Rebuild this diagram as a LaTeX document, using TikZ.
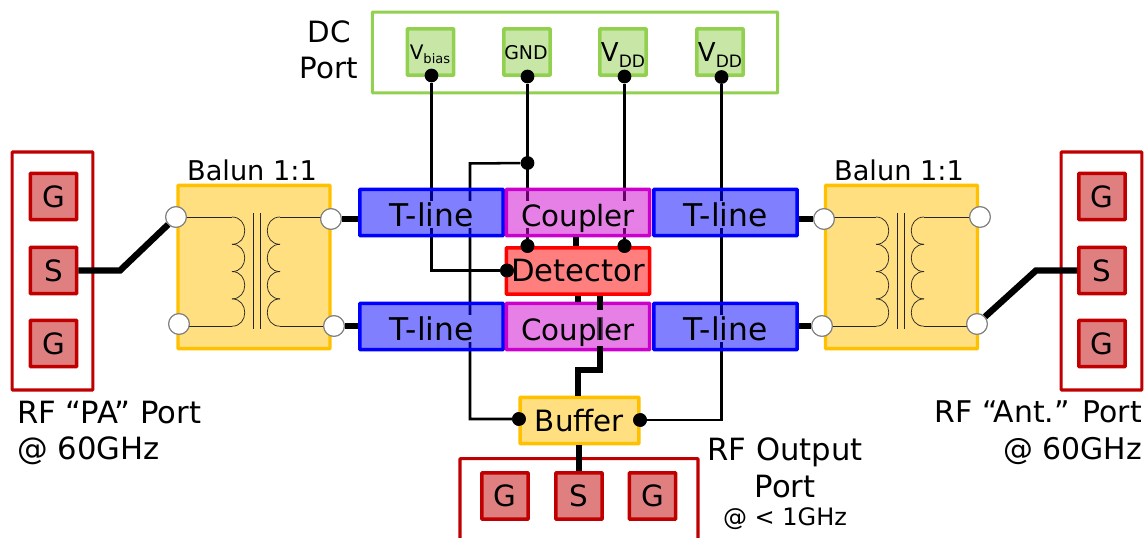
\documentclass[tikz,border=0pt]{standalone}
\usepackage{fontspec}
\setmainfont{DejaVu Sans}
\definecolor{portred}{HTML}{C00000}
\definecolor{padgreen}{HTML}{92D050}
\definecolor{balunyellow}{HTML}{FFC000}
\definecolor{couplerpurple}{HTML}{CC00CC}
\newcommand{\bigfont}{\fontsize{22}{27.4}\selectfont}
\newcommand{\labelfont}{\fontsize{23}{27.4}\selectfont}
\tikzset{
  boxbase/.style={draw=#1,fill=#1,fill opacity=0.5,text opacity=1,line width=2.6pt,rounded corners=0.5pt,inner sep=0pt,font=\bigfont},
  portbox/.style={draw=#1,line width=2.3pt,rounded corners=0.5pt,inner sep=0pt,minimum width=60.5pt,minimum height=60.5pt},
  padbox/.style={boxbase=#1,minimum width=34.8pt,minimum height=34.8pt},
  rowbox/.style={boxbase=#1,minimum width=107.4pt,minimum height=34.8pt},
  balunbox/.style={boxbase=balunyellow,minimum width=114pt,minimum height=122.5pt},
  rowtext/.style={fill=#1!50,anchor=base,inner sep=0pt,minimum width=100pt,text height=19pt,text depth=1pt,font=\bigfont},
  plaintext/.style={inner sep=0pt,font=\bigfont},
  terminal/.style={circle,draw=black!50,fill=white,line width=0.8pt,inner sep=0pt,minimum size=15.5pt},
  dot/.style={circle,fill=black,inner sep=0pt,minimum size=10.3pt},
  thinwire/.style={line width=1.9pt},
  thickwire/.style={line width=4.8pt},
  coilwire/.style={line width=0.55pt,black!85}
}
\begin{document}
\begin{tikzpicture}[x=0.75pt,y=-0.75pt]
  \useasboundingbox (0,0) rectangle (1146,538);
  \clip (0,0) rectangle (1146,538);
  \node[portbox=padgreen,minimum width=304pt] (dcPort) at (575,52.5) {};
  \node[portbox=portred,minimum height=178.5pt] (paPort) at (52.5,271) {};
  \node[portbox=portred,minimum height=178.5pt] (antPort) at (1101.5,271) {};
  \node[portbox=portred,minimum width=178.5pt,minimum height=65pt] (outPort) at (579,502) {};
  \foreach \name/\x/\y/\txt in {paG1/53.5/196.5/G,paS/53.5/270.5/S,paG2/53.5/343.5/G,antG1/1102/196.5/G,antS/1102/270.5/S,antG2/1102/343.5/G,outG1/505/496/G,outS/579/496/S,outG2/652.5/496/G}{
    \node[padbox=portred] (\name) at (\x,\y) {\txt};
  }
  \foreach \name/\x in {padBias/430.5,padGnd/527,padVddA/623,padVddB/720}{
    \node[padbox=padgreen] (\name) at (\x,52) {};
  }
  \node[anchor=base,inner sep=0pt] (txtBias) at (430,60) {\fontsize{15}{15}\selectfont V\raisebox{-2.6pt}{\fontsize{9.8}{10}\selectfont bias}};
  \node[anchor=base,inner sep=0pt,font=\fontsize{14.2}{15}\selectfont] (txtGnd) at (526,59.5) {GND};
  \foreach \name/\x in {txtVddA/623,txtVddB/720}{
    \node[anchor=base,inner sep=0pt] (\name) at (\x,62) {\fontsize{19.5}{20}\selectfont V\raisebox{-4.5pt}{\fontsize{12.8}{13}\selectfont DD}};
  }
  \node[dot] (dotBias) at (431.5,75.5) {};
  \node[dot] (dotGnd) at (527.5,76.5) {};
  \node[dot] (dotVddA) at (624.5,76.5) {};
  \node[dot] (dotVddB) at (721.5,77) {};
  \node[dot] (dotJoin) at (527.5,163) {};
  \node[dot] (dotDetL) at (527.5,246) {};
  \node[dot] (dotDetR) at (624.5,246) {};
  \node[dot] (dotDetW) at (507,270.5) {};
  \node[dot] (dotBufL) at (519,419) {};
  \node[dot] (dotBufR) at (640,420) {};
  \coordinate (joinBend) at (470,163.5);
  \coordinate (stepTop) at (600,370);
  \coordinate (stepLow) at (578,370);
  \coordinate (paBend) at (120,270.5);
  \coordinate (antBend) at (1036,270.5);
  \draw[thinwire] (dotBias) |- (dotDetW);
  \draw[thinwire] (dotGnd) -- (dotDetL);
  \draw[thinwire] (dotVddA) -- (dotDetR);
  \draw[thinwire] (dotVddB) |- (dotBufR);
  \draw[thinwire] (dotJoin) -- (joinBend) |- (dotBufL);
  \node[balunbox] (balunL) at (254,267) {};
  \node[balunbox] (balunR) at (901.5,267) {};
  \node[plaintext,font=\fontsize{20.4}{24}\selectfont] (labelL) at (252,170) {Balun 1:1};
  \node[plaintext,font=\fontsize{20.4}{24}\selectfont] (labelR) at (899,170) {Balun 1:1};
  \node[rowbox=blue] (tlineUL) at (431.5,212.5) {};
  \node[rowbox=couplerpurple] (couplerU) at (578,212.5) {};
  \node[rowbox=blue] (tlineUR) at (725.5,212.5) {};
  \node[rowbox=blue] (tlineLL) at (431.5,326.5) {};
  \node[rowbox=couplerpurple] (couplerL) at (578,326.5) {};
  \node[rowbox=blue] (tlineLR) at (725.5,326.5) {};
  \node[rowbox=red,font=\labelfont] (detector) at (578,271) {Detector};
  \node[boxbase=balunyellow,minimum width=89pt,minimum height=34.8pt] (buffer) at (579.5,420.5) {Buffer};
  \draw[thickwire] ([xshift=-1.5pt]couplerU.south) -- ([xshift=-1.5pt]detector.north);
  \draw[thickwire] (detector.south) -- (couplerL.north);
  \draw[thickwire] (detector.south -| stepTop) -- (stepTop) -- (stepLow) -- (buffer.north -| stepLow);
  \draw[thickwire] (buffer.south -| outS) -- (outS.north);
  \node[rowtext=blue,font=\fontsize{23.5}{27}\selectfont] (txtUL) at (431.5,226.5) {T-line};
  \node[rowtext=couplerpurple] (txtCU) at (578,226.5) {Coupler};
  \node[rowtext=blue,font=\fontsize{23.5}{27}\selectfont] (txtUR) at (725.5,226.5) {T-line};
  \node[rowtext=blue,font=\fontsize{23.5}{27}\selectfont] (txtLL) at (431.5,340.5) {T-line};
  \node[rowtext=couplerpurple,text height=22.5pt,text depth=4pt] (txtCL) at (578,340.5) {Coupler};
  \node[rowtext=blue,font=\fontsize{23.5}{27}\selectfont] (txtLR) at (725.5,340.5) {T-line};
  \coordinate (patchTop) at (600,317);
  \coordinate (patchLow) at (600,340);
  \draw[thickwire,opacity=0.5] (patchTop) -- (patchLow);
  \foreach \bx in {0,644}{
    \draw[coilwire] (\bx+253,213) -- (\bx+253,329);
    \draw[coilwire] (\bx+260,213) -- (\bx+260,329);
    \foreach \y in {217,244.3,271.6,298.9}{
      \draw[coilwire] (\bx+232,\y) .. controls (\bx+249,\y) and (\bx+249,\y+27.3) .. (\bx+232,\y+27.3);
      \draw[coilwire] (\bx+280,\y) .. controls (\bx+263,\y) and (\bx+263,\y+27.3) .. (\bx+280,\y+27.3);
    }
  }
  \node[terminal] (balLa) at (176,217) {};
  \node[terminal] (balLb) at (179,324) {};
  \node[terminal] (balLc) at (331,219) {};
  \node[terminal] (balLd) at (334,326) {};
  \node[terminal] (balRa) at (824,219) {};
  \node[terminal] (balRb) at (822,326) {};
  \node[terminal] (balRc) at (980,217) {};
  \node[terminal] (balRd) at (977,324) {};
  \coordinate (coilLa) at (232,217);
  \coordinate (coilLb) at (232,326.2);
  \coordinate (coilLc) at (280,217);
  \coordinate (coilLd) at (280,326.2);
  \coordinate (coilRa) at (876,217);
  \coordinate (coilRb) at (876,326.2);
  \coordinate (coilRc) at (924,217);
  \coordinate (coilRd) at (924,326.2);
  \foreach \c/\t in {coilLa/balLa,coilLb/balLb,coilLc/balLc,coilLd/balLd,coilRa/balRa,coilRb/balRb,coilRc/balRc,coilRd/balRd}{
    \draw[coilwire] (\c) -- (\c -| \t.center);
  }
  \draw[thickwire] (tlineUL.west |- balLc) -- (balLc);
  \draw[thickwire] (tlineLL.west |- balLd) -- (balLd);
  \draw[thickwire] (tlineUR.east |- balRa) -- (balRa);
  \draw[thickwire] (tlineLR.east |- balRb) -- (balRb);
  \draw[thickwire] (paS.east) -- (paBend) -- (balLa);
  \draw[thickwire] (antS.west) -- (antBend) -- (balRd);
  \foreach \t in {balLa,balLb,balLc,balLd,balRa,balRb,balRc,balRd}{
    \node[terminal] at (\t) {};
  }
  \foreach \d in {dotDetL,dotDetR,dotDetW,dotBufL,dotBufR}{
    \node[dot] at (\d) {};
  }
  \node[plaintext,align=center] (dcLabel) at (329,50) {DC\\Port};
  \node[plaintext,font=\labelfont,align=left,anchor=north west] (paLabel) at (17,400.5) {RF “PA” Port\\@ 60GHz};
  \node[plaintext,font=\fontsize{22.4}{27.4}\selectfont,align=right,anchor=north east] (antLabel) at (1142,400.5) {RF “Ant.” Port\\@ 60GHz};
  \node[plaintext,font=\labelfont,align=center,anchor=north] (outLabel) at (785,437.5) {RF Output\\Port};
  \node[plaintext,font=\fontsize{18}{20}\selectfont] (outFreq) at (785,519) {@ < 1GHz};
\end{tikzpicture}
\end{document}
